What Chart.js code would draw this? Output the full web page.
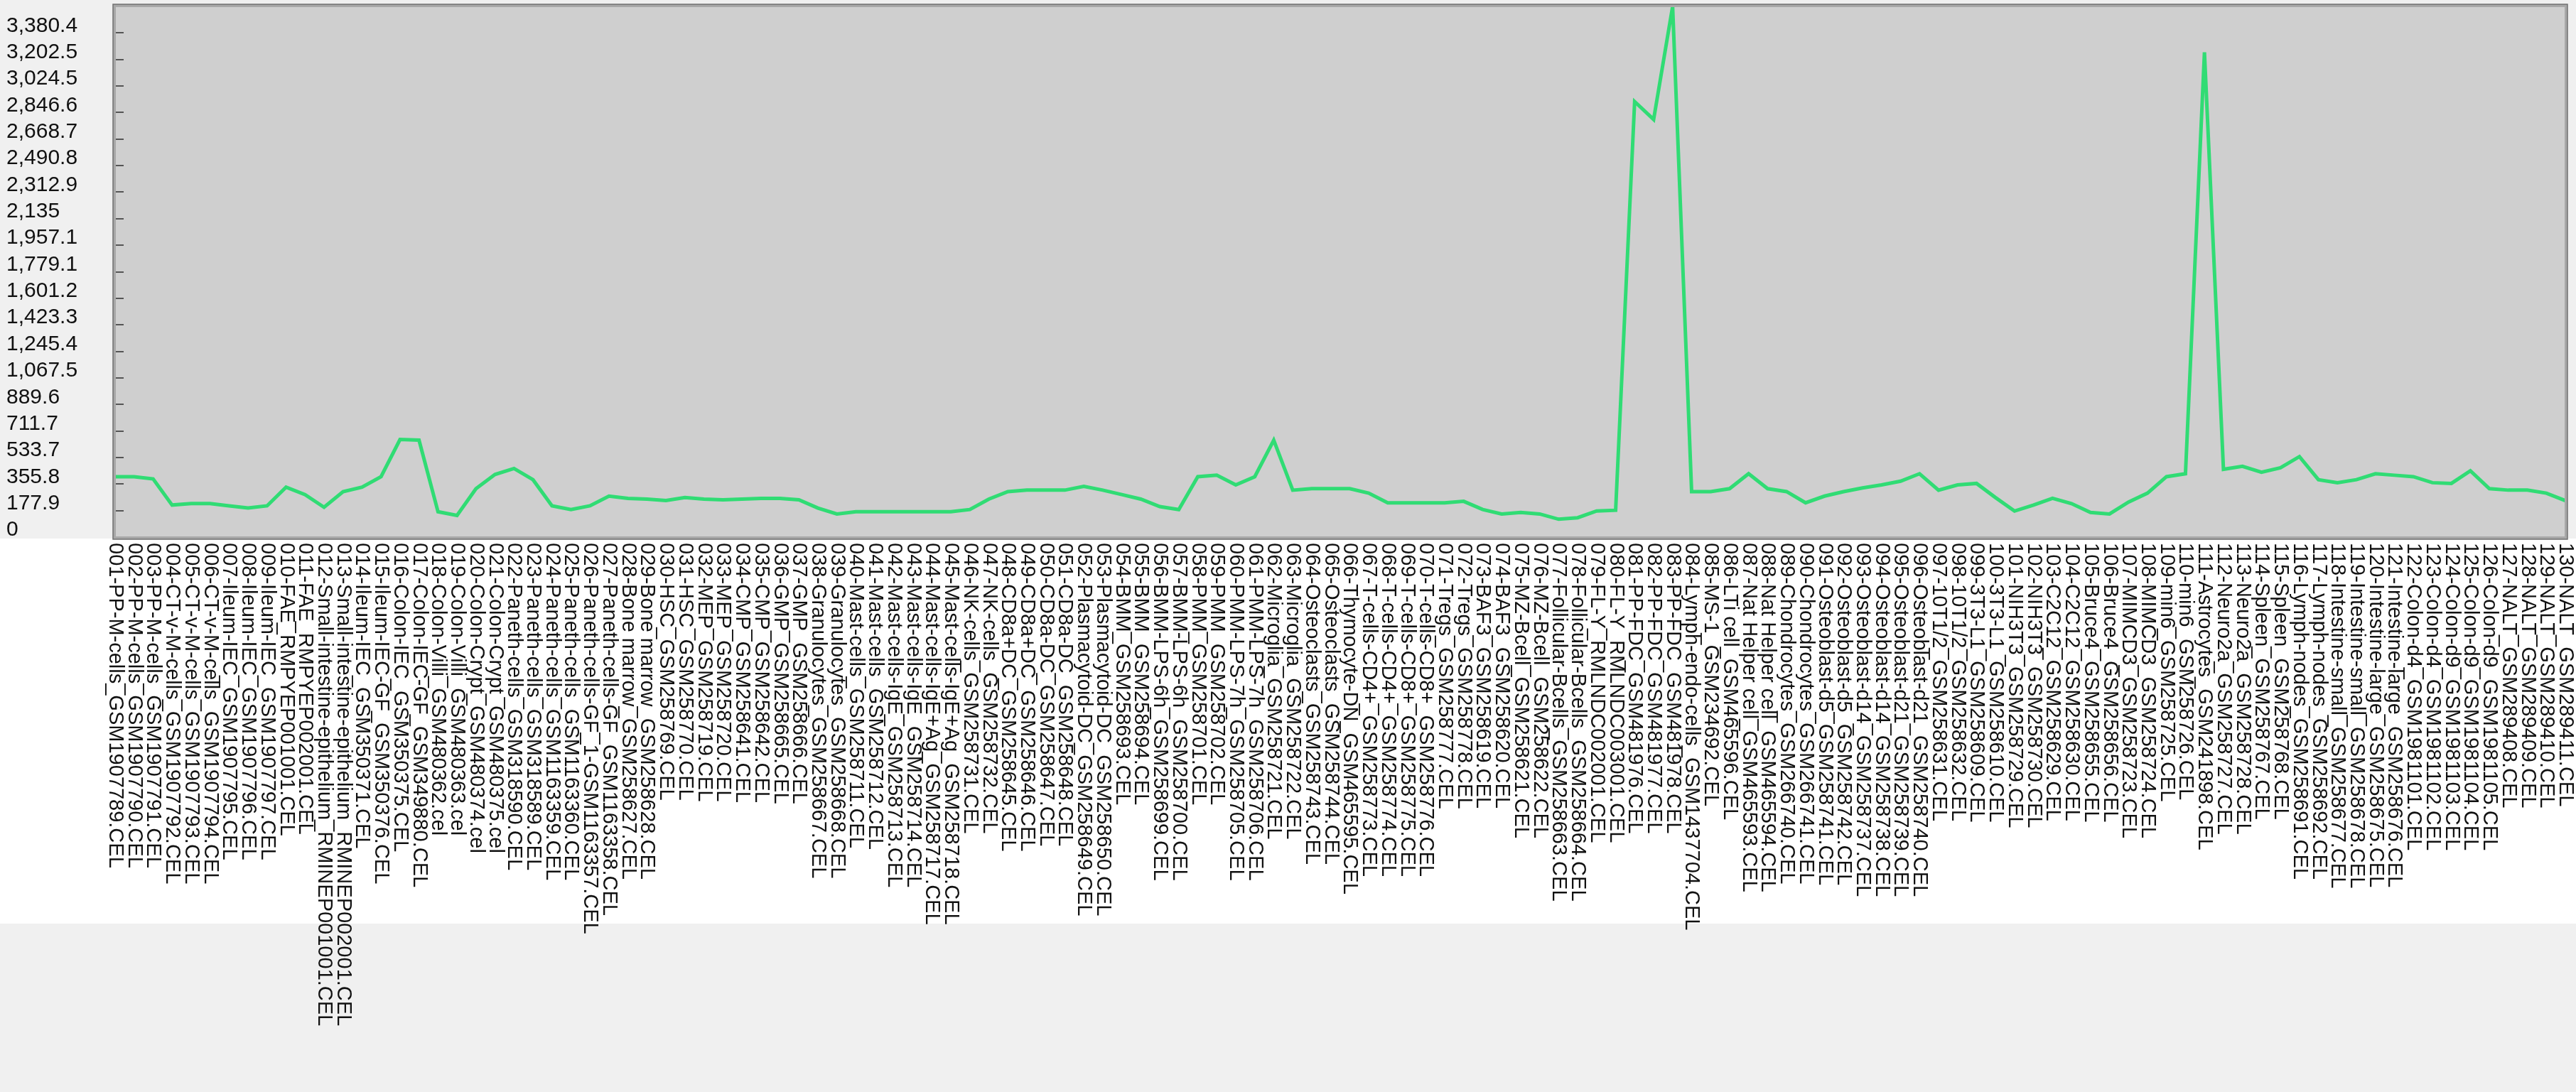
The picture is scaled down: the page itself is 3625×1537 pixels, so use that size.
<!DOCTYPE html>
<html><head><meta charset="utf-8">
<script src="https://cdn.jsdelivr.net/npm/chart.js@4/dist/chart.umd.min.js"></script>
<style>
html,body{margin:0;padding:0;background:#f0f0f0;overflow:hidden;}
canvas{display:block;}
</style></head><body>
<canvas id="c" width="3625" height="1537"></canvas>
<script>
const categories = [
"001-PP-M-cells_GSM1907789.CEL","002-PP-M-cells_GSM1907790.CEL","003-PP-M-cells_GSM1907791.CEL",
"004-CT-v-M-cells_GSM1907792.CEL","005-CT-v-M-cells_GSM1907793.CEL","006-CT-v-M-cells_GSM1907794.CEL",
"007-Ileum-IEC_GSM1907795.CEL","008-Ileum-IEC_GSM1907796.CEL","009-Ileum-IEC_GSM1907797.CEL",
"010-FAE_RMPYEP001001.CEL","011-FAE_RMPYEP002001.CEL",
"012-Small-intestine-epithelium_RMINEP001001.CEL","013-Small-intestine-epithelium_RMINEP002001.CEL",
"014-Ileum-IEC_GSM350371.CEL","015-Ileum-IEC-GF_GSM350376.CEL","016-Colon-IEC_GSM350375.CEL",
"017-Colon-IEC-GF_GSM349880.CEL","018-Colon-Villi_GSM480362.cel","019-Colon-Villi_GSM480363.cel",
"020-Colon-Crypt_GSM480374.cel","021-Colon-Crypt_GSM480375.cel","022-Paneth-cells_GSM318590.CEL",
"023-Paneth-cells_GSM318589.CEL","024-Paneth-cells_GSM1163359.CEL","025-Paneth-cells_GSM1163360.CEL",
"026-Paneth-cells-GF_1-GSM1163357.CEL","027-Paneth-cells-GF_GSM1163358.CEL",
"028-Bone marrow_GSM258627.CEL","029-Bone marrow_GSM258628.CEL","030-HSC_GSM258769.CEL",
"031-HSC_GSM258770.CEL","032-MEP_GSM258719.CEL","033-MEP_GSM258720.CEL","034-CMP_GSM258641.CEL",
"035-CMP_GSM258642.CEL","036-GMP_GSM258665.CEL","037-GMP_GSM258666.CEL",
"038-Granulocytes_GSM258667.CEL","039-Granulocytes_GSM258668.CEL","040-Mast-cells_GSM258711.CEL",
"041-Mast-cells_GSM258712.CEL","042-Mast-cells-IgE_GSM258713.CEL","043-Mast-cells-IgE_GSM258714.CEL",
"044-Mast-cells-IgE+Ag_GSM258717.CEL","045-Mast-cells-IgE+Ag_GSM258718.CEL","046-NK-cells_GSM258731.CEL",
"047-NK-cells_GSM258732.CEL","048-CD8a+DC_GSM258645.CEL","049-CD8a+DC_GSM258646.CEL",
"050-CD8a-DC_GSM258647.CEL","051-CD8a-DC_GSM258648.CEL","052-Plasmacytoid-DC_GSM258649.CEL",
"053-Plasmacytoid-DC_GSM258650.CEL","054-BMM_GSM258693.CEL","055-BMM_GSM258694.CEL",
"056-BMM-LPS-6h_GSM258699.CEL","057-BMM-LPS-6h_GSM258700.CEL","058-PMM_GSM258701.CEL",
"059-PMM_GSM258702.CEL","060-PMM-LPS-7h_GSM258705.CEL","061-PMM-LPS-7h_GSM258706.CEL",
"062-Microglia_GSM258721.CEL","063-Microglia_GSM258722.CEL","064-Osteoclasts_GSM258743.CEL",
"065-Osteoclasts_GSM258744.CEL","066-Thymocyte-DN_GSM465595.CEL","067-T-cells-CD4+_GSM258773.CEL",
"068-T-cells-CD4+_GSM258774.CEL","069-T-cells-CD8+_GSM258775.CEL","070-T-cells-CD8+_GSM258776.CEL",
"071-Tregs_GSM258777.CEL","072-Tregs_GSM258778.CEL","073-BAF3_GSM258619.CEL","074-BAF3_GSM258620.CEL",
"075-MZ-Bcell_GSM258621.CEL","076-MZ-Bcell_GSM258622.CEL","077-Follicular-Bcells_GSM258663.CEL",
"078-Follicular-Bcells_GSM258664.CEL","079-FL-Y_RMLNDC002001.CEL","080-FL-Y_RMLNDC003001.CEL",
"081-PP-FDC_GSM481976.CEL","082-PP-FDC_GSM481977.CEL","083-PP-FDC_GSM481978.CEL",
"084-Lymph-endo-cells_GSM1437704.CEL","085-MS-1_GSM234692.CEL","086-LTi cell_GSM465596.CEL",
"087-Nat Helper cell_GSM465593.CEL","088-Nat Helper cell_GSM465594.CEL","089-Chondrocytes_GSM266740.CEL",
"090-Chondrocytes_GSM266741.CEL","091-Osteoblast-d5_GSM258741.CEL","092-Osteoblast-d5_GSM258742.CEL",
"093-Osteoblast-d14_GSM258737.CEL","094-Osteoblast-d14_GSM258738.CEL","095-Osteoblast-d21_GSM258739.CEL",
"096-Osteoblast-d21_GSM258740.CEL","097-10T1/2_GSM258631.CEL","098-10T1/2_GSM258632.CEL",
"099-3T3-L1_GSM258609.CEL","100-3T3-L1_GSM258610.CEL","101-NIH3T3_GSM258729.CEL","102-NIH3T3_GSM258730.CEL",
"103-C2C12_GSM258629.CEL","104-C2C12_GSM258630.CEL","105-Bruce4_GSM258655.CEL","106-Bruce4_GSM258656.CEL",
"107-MIMCD3_GSM258723.CEL","108-MIMCD3_GSM258724.CEL","109-min6_GSM258725.CEL","110-min6_GSM258726.CEL",
"111-Astrocytes_GSM241898.CEL","112-Neuro2a_GSM258727.CEL","113-Neuro2a_GSM258728.CEL",
"114-Spleen_GSM258767.CEL","115-Spleen_GSM258768.CEL","116-Lymph-nodes_GSM258691.CEL",
"117-Lymph-nodes_GSM258692.CEL","118-Intestine-small_GSM258677.CEL","119-Intestine-small_GSM258678.CEL",
"120-Intestine-large_GSM258675.CEL","121-Intestine-large_GSM258676.CEL","122-Colon-d4_GSM1981101.CEL",
"123-Colon-d4_GSM1981102.CEL","124-Colon-d9_GSM1981103.CEL","125-Colon-d9_GSM1981104.CEL",
"126-Colon-d9_GSM1981105.CEL","127-NALT_GSM289408.CEL","128-NALT_GSM289409.CEL",
"129-NALT_GSM289410.CEL","130-NALT_GSM289411.CEL"
];

const values = [
405,405,390,215,225,225,210,195,210,335,
285,200,305,335,405,655,650,170,145,325,
420,460,385,210,185,210,275,260,255,245,
265,255,250,255,260,260,250,195,155,170,
170,170,170,170,170,185,255,305,315,315,
315,340,315,285,255,205,185,405,415,350,
405,650,315,325,325,325,295,230,230,230,
230,240,185,155,165,155,120,130,175,180,
2920,2800,3558,305,305,325,425,325,305,230,
275,305,330,350,375,425,315,350,360,265,
175,215,260,225,165,155,235,295,405,425,
3250,455,475,435,465,540,385,365,385,425,
415,405,365,360,445,325,315,315,295,245
];

const yTicks = [0,177.9,355.8,533.7,711.7,889.6,1067.5,1245.4,1423.3,1601.2,1779.1,1957.1,2135,2312.9,2490.8,2668.7,2846.6,3024.5,3202.5,3380.4];
const yMax = 3558.3;

const bgPlugin = {
  id: 'bg',
  beforeDraw(chart) {
    const {ctx, chartArea: a, width, height} = chart;
    ctx.save();
    ctx.fillStyle = '#f0f0f0';
    ctx.fillRect(0, 0, width, height);
    ctx.fillStyle = '#ffffff';
    ctx.fillRect(0, a.bottom + 2, width, 1298 - a.bottom);
    ctx.fillStyle = '#cfcfcf';
    ctx.fillRect(a.left, a.top, a.right - a.left, a.bottom - a.top);
    ctx.restore();
  },
  afterDraw(chart) {
    const {ctx, chartArea: a} = chart;
    ctx.save();
    ctx.strokeStyle = '#a8a8a8';
    ctx.lineWidth = 4;
    ctx.strokeRect(a.left - 1, a.top - 1, a.right - a.left + 2, a.bottom - a.top + 2);
    ctx.strokeStyle = '#707070';
    ctx.lineWidth = 1.5;
    ctx.strokeRect(a.left - 3, a.top - 3, a.right - a.left + 6, a.bottom - a.top + 6);
    const xs = chart.scales.x;
    ctx.fillStyle = '#111';
    ctx.font = '29px "Liberation Sans", Arial, sans-serif';
    ctx.textAlign = 'left';
    ctx.textBaseline = 'middle';
    categories.forEach((lab, i) => {
      const x = xs.getPixelForValue(i);
      ctx.save();
      ctx.translate(x, a.bottom + 8);
      ctx.rotate(Math.PI / 2);
      ctx.fillText(lab, 0, 0);
      ctx.restore();
    });
    ctx.restore();
  }
};

new Chart(document.getElementById('c'), {
  type: 'line',
  data: {
    labels: categories,
    datasets: [{
      data: values,
      borderColor: '#30dc74',
      borderWidth: 5,
      pointRadius: 0,
      tension: 0,
      fill: false
    }]
  },
  options: {
    responsive: false,
    animation: false,
    devicePixelRatio: 1,
    layout: { padding: { left: 9, top: 9, right: 15, bottom: 781 } },
    plugins: { legend: { display: false }, tooltip: { enabled: false } },
    scales: {
      x: { type: 'category', display: false, offset: false },
      y: {
        min: 0, max: yMax,
        afterBuildTicks(scale) { scale.ticks = yTicks.map(v => ({ value: v })); },
        afterFit(scale) { scale.width = 153; scale.paddingTop = 0; scale.paddingBottom = 0; },
        border: { display: false },
        grid: { display: true, drawOnChartArea: false, drawTicks: true, tickLength: -12, color: '#555', lineWidth: 2 },
        ticks: {
          crossAlign: 'far',
          labelOffset: -10,
          color: '#111',
          font: { family: '"Liberation Sans", Arial, sans-serif', size: 30 },
          callback: v => Number(v).toLocaleString('en-US', { maximumFractionDigits: 1 })
        }
      }
    }
  },
  plugins: [bgPlugin]
});
</script>
</body></html>
